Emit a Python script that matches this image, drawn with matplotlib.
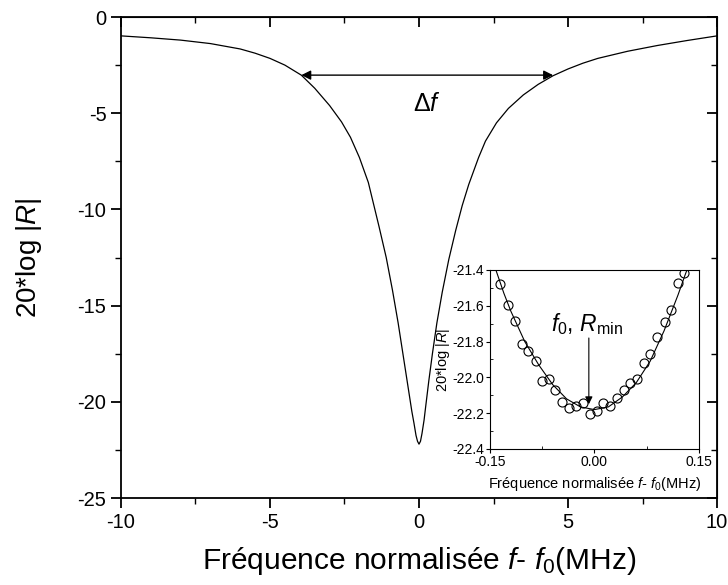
import numpy as np
import matplotlib
matplotlib.use('Agg')
import matplotlib.pyplot as plt
from matplotlib.ticker import MultipleLocator

plt.rcParams['font.family'] = ['Liberation Sans', 'DejaVu Sans']
plt.rcParams['mathtext.fontset'] = 'custom'
plt.rcParams['mathtext.rm'] = 'Liberation Sans'
plt.rcParams['mathtext.it'] = 'Liberation Sans:italic'
plt.rcParams['axes.unicode_minus'] = False

# courbe principale
freq_main = [-10, -9, -8, -7, -6, -5.5, -5, -4.5, -3.95, -3.5, -3.0, -2.6, -2.3,
             -2.0, -1.7, -1.34, -1.1, -0.89, -0.7, -0.56, -0.42, -0.33, -0.24,
             -0.17, -0.1, -0.05, 0.0, 0.05, 0.1, 0.17, 0.22, 0.33, 0.45, 0.6,
             0.78, 1.0, 1.23, 1.45, 1.67, 2.0, 2.23, 2.6, 3.0, 3.5, 4.0, 4.5,
             5.0, 5.5, 6.0, 7.0, 8.0, 9.0, 10]
db_main = [-0.98, -1.08, -1.2, -1.38, -1.66, -1.88, -2.15, -2.5, -3.02, -3.7, -4.6,
           -5.45, -6.25, -7.3, -8.6, -10.9, -12.5, -14.2, -15.9, -17.3, -18.7,
           -19.6, -20.5, -21.1, -21.75, -22.05, -22.2, -22.05, -21.65, -20.95,
           -20.3, -18.9, -17.5, -15.9, -14.3, -12.6, -11.1, -9.8, -8.7, -7.3,
           -6.45, -5.5, -4.75, -4.05, -3.5, -3.05, -2.7, -2.4, -2.15, -1.78,
           -1.48, -1.22, -0.98]

# encart : points mesures
freq_pts = [-0.135, -0.1235, -0.114, -0.104, -0.095, -0.084, -0.075, -0.065,
            -0.056, -0.047, -0.037, -0.0265, -0.016, -0.007, 0.003, 0.012,
            0.023, 0.032, 0.042, 0.051, 0.061, 0.071, 0.080, 0.090, 0.101,
            0.110, 0.120, 0.129]
db_pts = [-21.48, -21.596, -21.684, -21.811, -21.854, -21.910, -22.022, -22.011,
          -22.069, -22.135, -22.170, -22.161, -22.142, -22.204, -22.187, -22.144,
          -22.161, -22.114, -22.073, -22.032, -22.011, -21.920, -21.867, -21.774,
          -21.690, -21.624, -21.475, -21.419]

# encart : courbe d'ajustement
freq_fit = [-0.145, -0.13, -0.12, -0.10, -0.08, -0.06, -0.04, -0.02, 0.0,
            0.02, 0.04, 0.06, 0.08, 0.10, 0.12, 0.13, 0.15]
db_fit = [-21.36, -21.53, -21.63, -21.80, -21.93, -22.04, -22.12, -22.165, -22.18,
          -22.165, -22.11, -22.03, -21.91, -21.74, -21.54, -21.43, -21.22]

fig = plt.figure(figsize=(7.28, 5.85), dpi=100)
ax = fig.add_axes([0.1662, 0.1487, 0.8187, 0.8222])
ax.plot(freq_main, db_main, color='black', lw=0.9)
ax.set_xlim(-10, 10)
ax.set_ylim(-25, 0)
ax.xaxis.set_major_locator(MultipleLocator(5))
ax.xaxis.set_minor_locator(MultipleLocator(2.5))
ax.yaxis.set_major_locator(MultipleLocator(5))
ax.yaxis.set_minor_locator(MultipleLocator(2.5))
ax.tick_params(which='major', direction='out', length=7, width=1.3, labelsize=14.5)
ax.tick_params(which='minor', direction='out', length=4, width=1.0)
for s in ax.spines.values():
    s.set_linewidth(1.3)

# graduations miroir (vers l'interieur)
top = ax.secondary_xaxis('top')
top.xaxis.set_major_locator(MultipleLocator(5))
top.xaxis.set_minor_locator(MultipleLocator(2.5))
top.tick_params(which='major', direction='in', length=7, width=1.3, labeltop=False)
top.tick_params(which='minor', direction='in', length=4, width=1.0)
right = ax.secondary_yaxis('right')
right.yaxis.set_major_locator(MultipleLocator(5))
right.yaxis.set_minor_locator(MultipleLocator(2.5))
right.tick_params(which='major', direction='in', length=7, width=1.3, labelright=False)
right.tick_params(which='minor', direction='in', length=4, width=1.0)

ax.set_xlabel(r'Fréquence normalisée $f$- $f_0$(MHz)', fontsize=21.5, labelpad=10)
ax.set_ylabel(r'20*log |$R$|', fontsize=20, labelpad=24)

ax.annotate('', xy=(-3.95, -3.02), xytext=(4.5, -3.02),
            arrowprops=dict(arrowstyle='<|-|>', color='black', lw=1.0,
                            mutation_scale=14, shrinkA=0, shrinkB=0))
ax.text(0.25, -4.5, r'$\Delta f$', fontsize=18, ha='center', va='center')

# encart
ins = fig.add_axes([0.673, 0.2325, 0.287, 0.306])
ins.plot(freq_fit, db_fit, color='black', lw=0.8)
ins.plot(freq_pts, db_pts, 'o', mfc='none', mec='black', ms=6.5, mew=0.8)
ins.set_xlim(-0.15, 0.15)
ins.set_ylim(-22.4, -21.4)
ins.set_xticks([-0.15, 0.0, 0.15])
ins.set_xticklabels(['-0.15', '0.00', '0.15'])
ins.xaxis.set_minor_locator(MultipleLocator(0.075))
ins.yaxis.set_major_locator(MultipleLocator(0.2))
ins.yaxis.set_minor_locator(MultipleLocator(0.1))
ins.yaxis.set_major_formatter(matplotlib.ticker.FuncFormatter(lambda v, p: '%.1f' % v))
ins.tick_params(which='major', direction='out', length=3, width=0.8, labelsize=10, pad=1)
ins.tick_params(which='minor', direction='in', length=2, width=0.6)
for s in ins.spines.values():
    s.set_linewidth(0.8)
ins.set_xlabel(r'Fréquence normalisée $f$- $f_0$(MHz)', fontsize=10.5, labelpad=5)
ins.set_ylabel(r'20*log |$R$|', fontsize=10.5, labelpad=0)
ins.annotate('', xy=(-0.008, -22.15), xytext=(-0.008, -21.78),
             arrowprops=dict(arrowstyle='-|>', color='black', lw=0.8,
                             mutation_scale=11, shrinkA=0, shrinkB=0))
ins.text(-0.01, -21.70, r'$f_0$, $R_{\mathrm{min}}$', fontsize=16.5, ha='center', va='center')

fig.savefig('out.png', dpi=100)
